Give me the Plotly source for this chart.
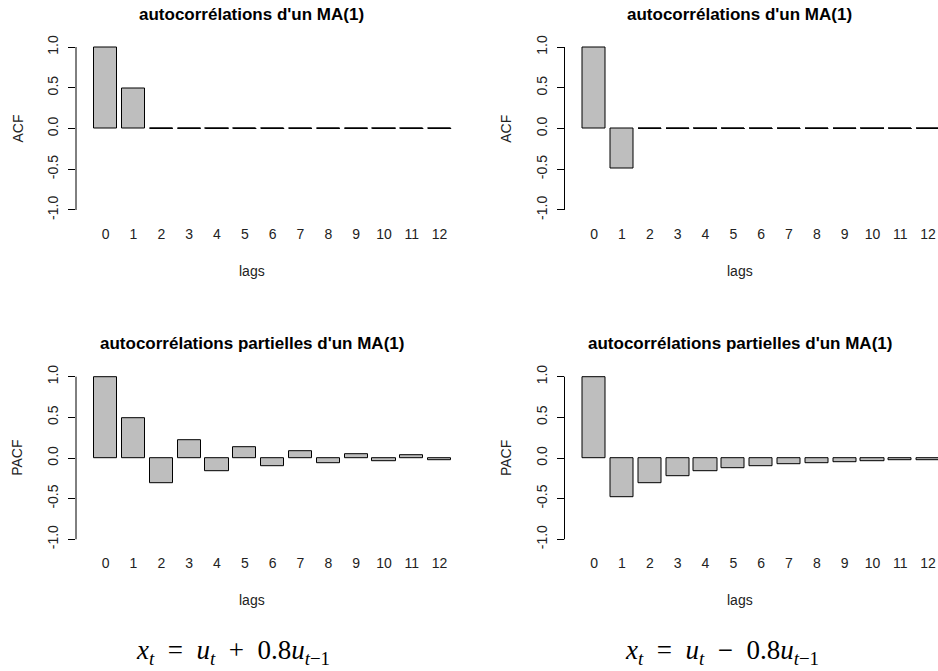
import plotly.graph_objects as go

# ---------------- data ----------------
lags = list(range(13))
lag_labels = [str(k) for k in lags]

acf_plus = [1.0, 0.488, 0.0, 0.0, 0.0, 0.0, 0.0, 0.0, 0.0, 0.0, 0.0, 0.0, 0.0]
acf_minus = [1.0, -0.488, 0.0, 0.0, 0.0, 0.0, 0.0, 0.0, 0.0, 0.0, 0.0, 0.0, 0.0]
pacf_plus = [1.0, 0.488, -0.312, 0.221, -0.165, 0.127, -0.099, 0.078, -0.062, 0.049, -0.039, 0.031, -0.025]
pacf_minus = [1.0, -0.488, -0.312, -0.221, -0.165, -0.127, -0.099, -0.078, -0.062, -0.049, -0.039, -0.031, -0.025]

y_tickvals = [-1.0, -0.5, 0.0, 0.5, 1.0]
y_ticktext = ["-1.0", "-0.5", "0.0", "0.5", "1.0"]

title_acf = "autocorrélations d'un MA(1)"
title_pacf = "autocorrélations partielles d'un MA(1)"
ylab_acf = "ACF"
ylab_pacf = "PACF"
xlab = "lags"
SP = "&nbsp;&nbsp;"
formula_plus = ("<i>x</i><sub><i>t</i></sub>" + SP + "=" + SP + "<i>u</i><sub><i>t</i></sub>"
                + SP + "+" + SP + "0.8<i>u</i><sub><i>t</i>−1</sub>")
formula_minus = ("<i>x</i><sub><i>t</i></sub>" + SP + "=" + SP + "<i>u</i><sub><i>t</i></sub>"
                 + SP + "−" + SP + "0.8<i>u</i><sub><i>t</i>−1</sub>")

# ---------------- layout geometry ----------------
W, H = 938, 671
BAR_W = 1 / 1.2
SCALE = 27.83  # px per lag unit
FONT = "Liberation Sans, Arial, Helvetica, sans-serif"

panels = [
    # (values, title, ylab, x_px0, x_px1, y_top_px, y_bot_px)
    (acf_plus, title_acf, ylab_acf, 76.0, 466.0, 40.5, 216.5),
    (acf_minus, title_acf, ylab_acf, 564.5, 938.0, 40.5, 216.5),
    (pacf_plus, title_pacf, ylab_pacf, 76.0, 466.0, 370.2, 545.8),
    (pacf_minus, title_pacf, ylab_pacf, 564.5, 938.0, 370.2, 545.8),
]

fig = go.Figure()
annotations = []
shapes = []
layout_axes = {}

for i, (vals, title, ylab, x0, x1, yt, yb) in enumerate(panels):
    n = i + 1
    xa = "x" if n == 1 else f"x{n}"
    ya = "y" if n == 1 else f"y{n}"
    xkey = "xaxis" if n == 1 else f"xaxis{n}"
    ykey = "yaxis" if n == 1 else f"yaxis{n}"

    fig.add_trace(go.Bar(
        x=lags, y=vals, width=BAR_W,
        marker=dict(color="#BEBEBE", line=dict(color="black", width=1)),
        xaxis=xa, yaxis=ya, showlegend=False, hoverinfo="skip",
    ))
    # zero-valued bars are drawn by R as flat outlines
    zx, zy = [], []
    for k, v in zip(lags, vals):
        if v == 0:
            zx += [k - BAR_W / 2, k + BAR_W / 2, None]
            zy += [v, v, None]
    if zx:
        fig.add_trace(go.Scatter(
            x=zx, y=zy, mode="lines", line=dict(color="black", width=1),
            xaxis=xa, yaxis=ya, showlegend=False, hoverinfo="skip",
        ))

    xr0 = -1.065
    xr1 = xr0 + (x1 - x0) / SCALE
    layout_axes[xkey] = dict(
        domain=[x0 / W, x1 / W], range=[xr0, xr1], anchor=ya,
        tickmode="array", tickvals=lags, ticktext=lag_labels,
        ticks="", showline=False, showgrid=False, zeroline=False,
        tickfont=dict(family=FONT, size=14, color="#222"),
        ticklabelstandoff=7, fixedrange=True, automargin=False,
    )
    layout_axes[ykey] = dict(
        domain=[1 - yb / H, 1 - yt / H], range=[-1.08, 1.08], anchor=xa,
        tickmode="array", tickvals=y_tickvals, ticktext=y_ticktext,
        ticks="outside", ticklen=7, tickcolor="black", tickwidth=1,
        tickangle=-90, showline=False, showgrid=False, zeroline=False,
        tickfont=dict(family=FONT, size=14, color="#222"),
        ticklabelstandoff=4, fixedrange=True, automargin=False,
    )
    shapes.append(dict(
        type="line", xref=f"{xa} domain", yref=ya,
        x0=0, x1=0, y0=-1, y1=1, line=dict(color="black", width=1),
    ))

    ox = 0 if n in (1, 3) else 488.3
    oy = 0 if n in (1, 2) else 329.3
    annotations.append(dict(
        text=f"<b>{title}</b>", x=(251.5 + ox) / W, y=1 - (14.5 + oy) / H,
        xref="paper", yref="paper", showarrow=False, xanchor="center", yanchor="middle",
        font=dict(family=FONT, size=17, color="black"),
    ))
    annotations.append(dict(
        text=xlab, x=(251.5 + ox) / W, y=1 - (271 + oy) / H,
        xref="paper", yref="paper", showarrow=False, xanchor="center", yanchor="middle",
        font=dict(family=FONT, size=14, color="#222"),
    ))
    annotations.append(dict(
        text=ylab, x=(17 + ox) / W, y=1 - (128.5 + oy) / H, textangle=-90,
        xref="paper", yref="paper", showarrow=False, xanchor="center", yanchor="middle",
        font=dict(family=FONT, size=14, color="#222"),
    ))

for txt, cx in [(formula_plus, 233), (formula_minus, 722)]:
    annotations.append(dict(
        text=txt, x=cx / W, y=1 - 652 / H,
        xref="paper", yref="paper", showarrow=False, xanchor="center", yanchor="middle",
        font=dict(family="Liberation Serif, DejaVu Serif, serif", size=27, color="black"),
    ))

fig.update_layout(
    width=W, height=H, margin=dict(l=0, r=0, t=0, b=0, autoexpand=False),
    paper_bgcolor="white", plot_bgcolor="white",
    annotations=annotations, shapes=shapes, bargap=0,
    **layout_axes,
)

fig.write_html(
    "out.html",
    config={"displayModeBar": False},
    post_script="document.body.style.margin='0';document.body.style.padding='0';",
)
